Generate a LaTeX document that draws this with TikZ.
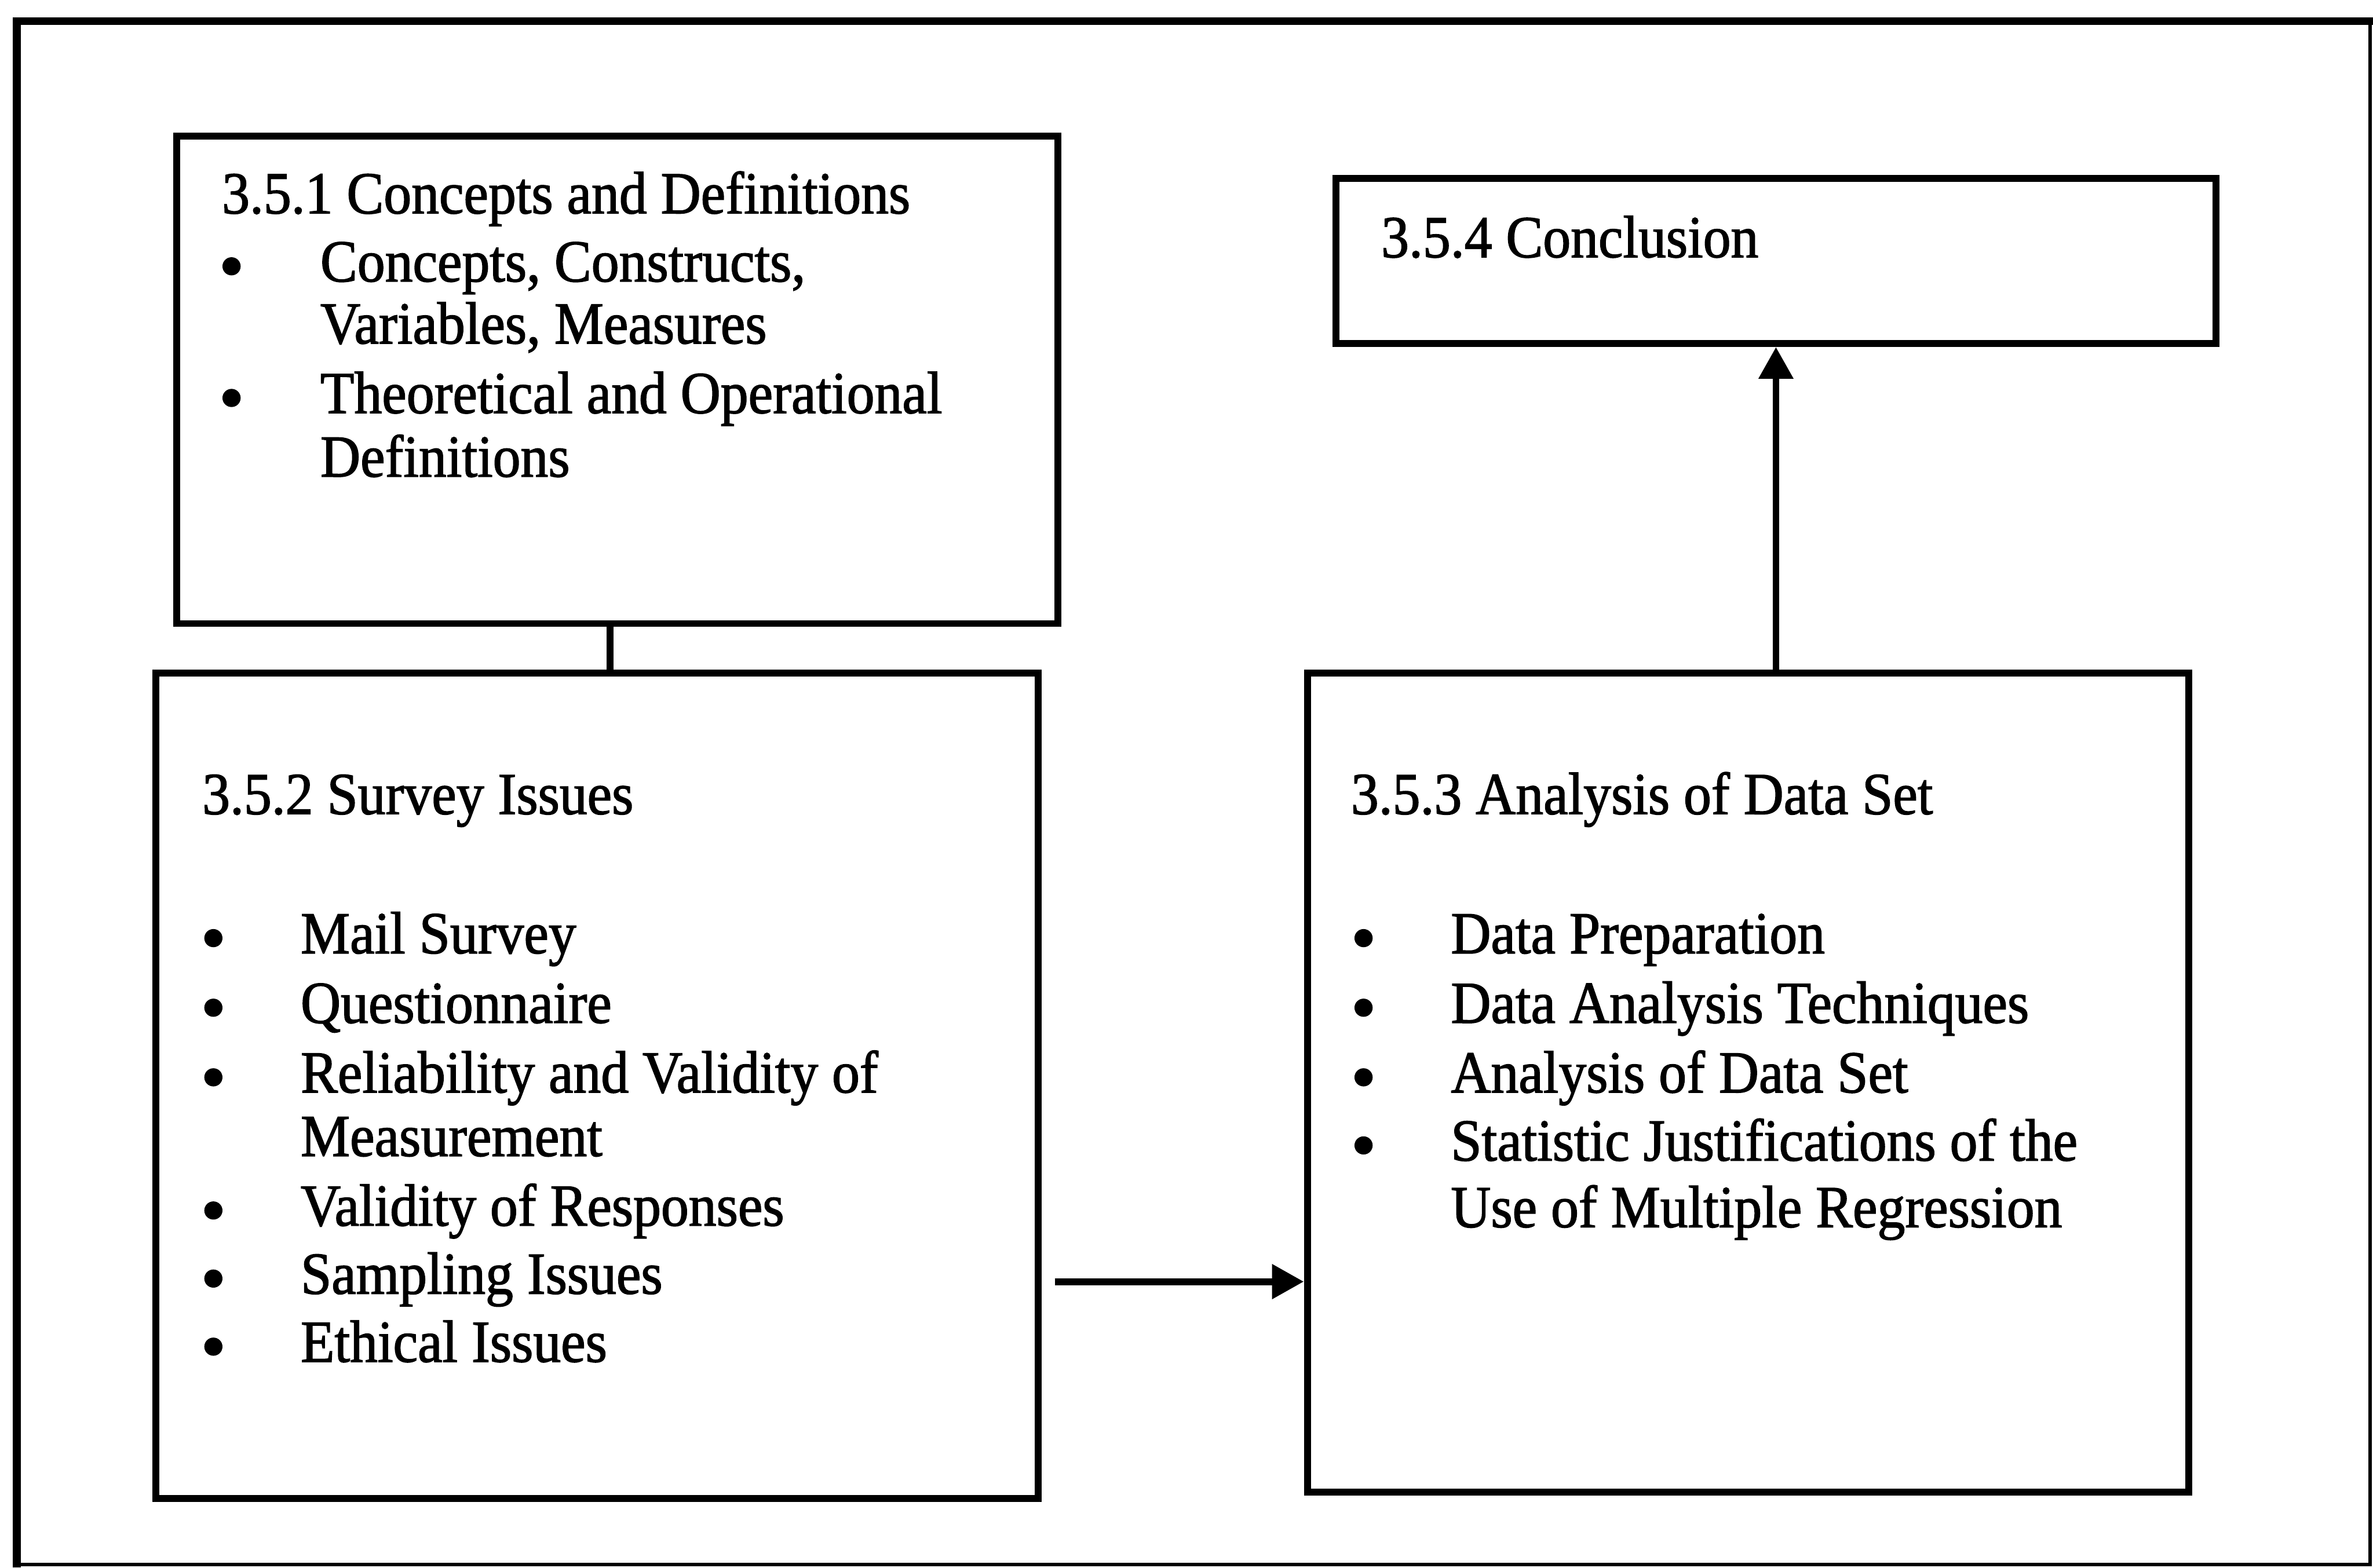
\documentclass[tikz,border=0pt]{standalone}
\usepackage{fontspec}
\setmainfont[FakeStretch=0.93,FakeBold=1.5]{Liberation Serif}
\usetikzlibrary{arrows.meta}
\begin{document}
\begin{tikzpicture}[x=0.01cm,y=-0.01cm,
  boxframe/.style={draw,line width=1.3pt,inner sep=0pt},
  txt/.style={anchor=base west,inner sep=0pt,font=\fontsize{11.2}{13}\selectfont},
  bul/.style={circle,fill,inner sep=0pt,minimum size=0.12cm,yshift=0.1cm},
  link/.style={line width=1.3pt},
  arr/.style={line width=1.3pt,-{Triangle[length=0.21cm,width=0.22cm]}}]
\useasboundingbox (0,0) rectangle (1568,1036);

% outer frame
\draw[line width=1.5pt] (11,1036) -- (11,14) -- (1568,14);
\draw[line width=0.6pt] (1566,14) -- (1566,1034) -- (11,1034);

% boxes
\node[boxframe,minimum width=5.82cm,minimum height=3.22cm] (b351) at (408,251) {};
\node[boxframe,minimum width=5.83cm,minimum height=5.45cm] (b352) at (394.5,717.5) {};
\node[boxframe,minimum width=5.82cm,minimum height=5.41cm] (b353) at (1155,715.5) {};
\node[boxframe,minimum width=5.81cm,minimum height=1.09cm] (b354) at (1173.5,172.5) {};

% 3.5.1
\node[txt] (t1) at (146,141) {3.5.1 Concepts and Definitions};
\node[bul] (t1b1) at (153,186) {};
\node[txt] (t1a) at (211,186) {Concepts, Constructs,};
\node[txt] (t1c) at (211,227) {Variables, Measures};
\node[bul] (t1b2) at (153,273) {};
\node[txt] (t1d) at (211,273) {Theoretical and Operational};
\node[txt] (t1e) at (211,315) {Definitions};

% 3.5.4
\node[txt] (t4) at (912,170) {3.5.4 Conclusion};

% 3.5.2
\node[txt] (t2) at (133,538) {3.5.2 Survey Issues};
\foreach \yy/\tx/\nm in {630/Mail Survey/a, 676/Questionnaire/b, 722/Reliability and Validity of/c, 810/Validity of Responses/e, 855/Sampling Issues/f, 900/Ethical Issues/g}{
  \node[bul] (t2b\nm) at (141,\yy) {};
  \node[txt] (t2\nm) at (198,\yy) {\tx};
}
\node[txt] (t2d) at (198,764) {Measurement};

% 3.5.3
\node[txt] (t3) at (892,538) {3.5.3 Analysis of Data Set};
\foreach \yy/\tx/\nm in {630/Data Preparation/a, 676/Data Analysis Techniques/b, 722/Analysis of Data Set/c, 767/Statistic Justifications of the/d}{
  \node[bul] (t3b\nm) at (901,\yy) {};
  \node[txt] (t3\nm) at (958,\yy) {\tx};
}
\node[txt] (t3e) at (958,811) {Use of Multiple Regression};

% connectors
\coordinate (k1) at (403,0);
\draw[link] (b351.south -| k1) -- (b352.north -| k1);
\coordinate (k2) at (697,847);
\draw[arr] (k2) -- (k2 -| b353.west);
\draw[arr] (b353.north -| b354.south) -- (b354.south);
\end{tikzpicture}
\end{document}
